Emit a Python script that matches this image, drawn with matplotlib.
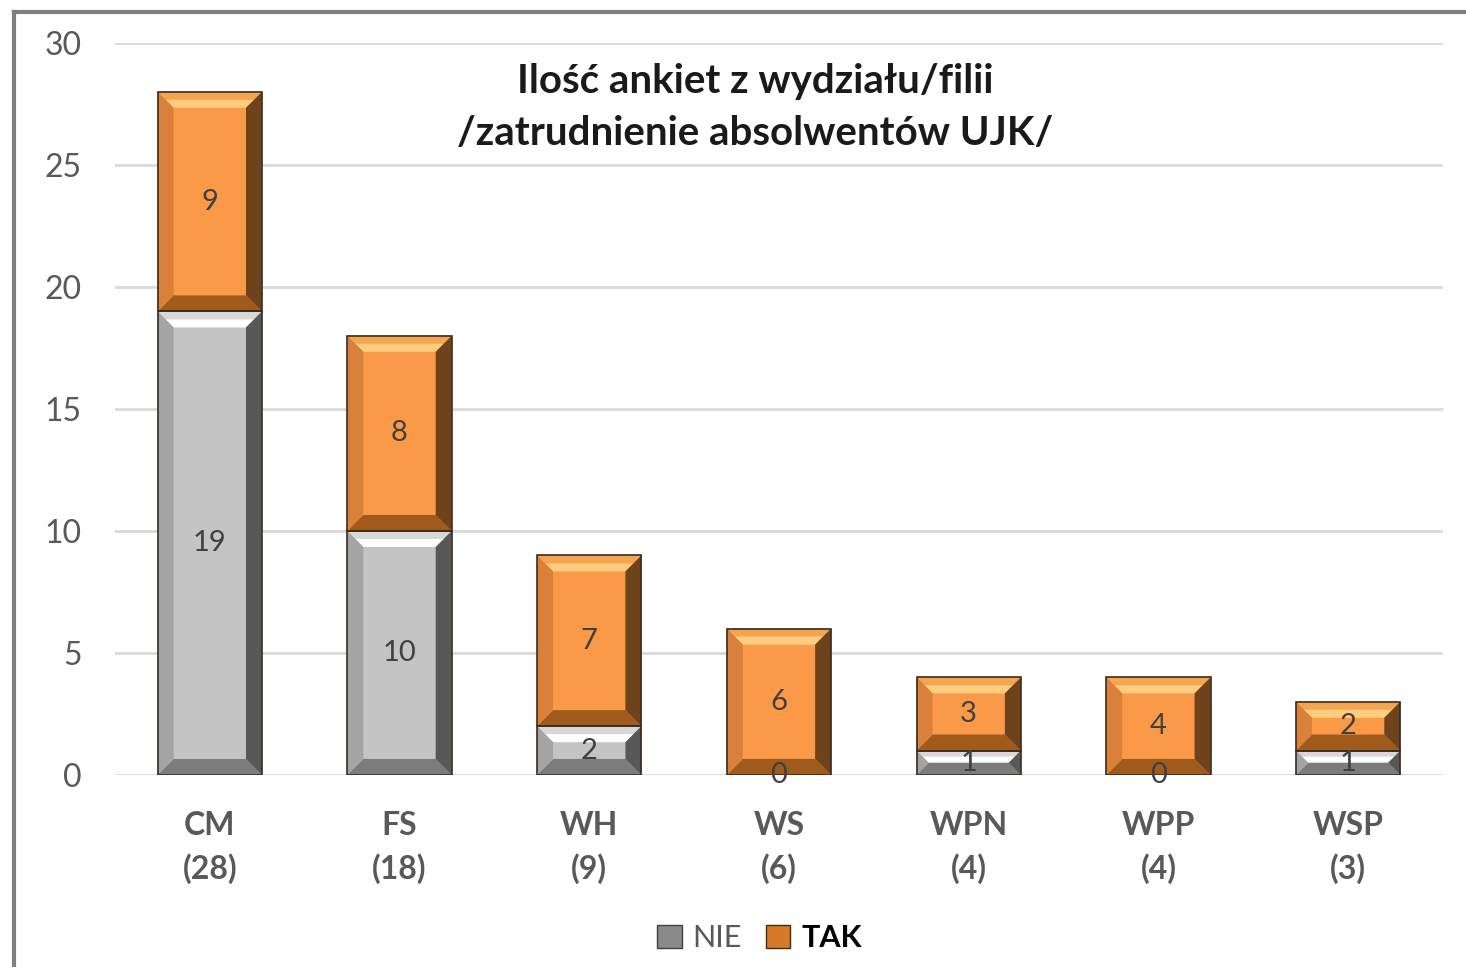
import matplotlib.pyplot as plt
from matplotlib.patches import Polygon, Patch
from matplotlib.lines import Line2D

plt.rcParams['font.family'] = ['Lato', 'DejaVu Sans']

categories = ["CM", "FS", "WH", "WS", "WPN", "WPP", "WSP"]
totals = [28, 18, 9, 6, 4, 4, 3]
nie = [19, 10, 2, 0, 1, 0, 1]
tak = [9, 8, 7, 6, 3, 4, 2]
title = "Ilość ankiet z wydziału/filii\n/zatrudnienie absolwentów UJK/"

fig = plt.figure(figsize=(14.66, 9.67), dpi=100)
ax = fig.add_axes([0.0784, 0.1986, 0.9059, 0.7569])

# frame round the chart (left and top only visible in the source)
fig.add_artist(Line2D([0.0095, 0.0095], [0.0, 0.9880], color='#808080', lw=3, transform=fig.transFigure))
fig.add_artist(Line2D([0.0095, 1.0], [0.9880, 0.9880], color='#808080', lw=3, transform=fig.transFigure))

x = list(range(len(categories)))
width = 0.55

ax.set_xlim(-0.5, len(categories) - 0.5)
ax.set_ylim(0, 30)

# pixel scale, for the bevel
ax_w = 0.9059 * 1466
ax_h = 0.7569 * 967
px_x = ax_w / len(categories)
px_y = ax_h / 30.0


def bevel(x0, x1, y0, y1, c_top, c_top2, c_bot, c_left, c_right):
    w_px = (x1 - x0) * px_x
    h_px = (y1 - y0) * px_y
    b = min(16, w_px / 2, h_px / 2)
    dx = b / px_x
    dy = b / px_y
    polys = [
        ([(x0, y1), (x1, y1), (x1 - dx, y1 - dy), (x0 + dx, y1 - dy)], c_top2),
        ([(x0 + dx * 0.5, y1 - dy * 0.5), (x1 - dx * 0.5, y1 - dy * 0.5),
          (x1 - dx, y1 - dy), (x0 + dx, y1 - dy)], c_top),
        ([(x0, y0), (x1, y0), (x1 - dx, y0 + dy), (x0 + dx, y0 + dy)], c_bot),
        ([(x0, y0), (x0, y1), (x0 + dx, y1 - dy), (x0 + dx, y0 + dy)], c_left),
        ([(x1, y0), (x1, y1), (x1 - dx, y1 - dy), (x1 - dx, y0 + dy)], c_right),
    ]
    for pts, c in polys:
        ax.add_patch(Polygon(pts, closed=True, facecolor=c, edgecolor='none', zorder=3))
    ax.add_patch(Polygon([(x0, y0), (x1, y0), (x1, y1), (x0, y1)], closed=True,
                         facecolor='none', edgecolor='#3a2c20', lw=1.2, zorder=4))


gray_face = '#c4c4c4'
orange_face = '#fa9a48'

bars_nie = ax.bar(x, nie, width, color=gray_face, edgecolor='none', zorder=2)
bars_tak = ax.bar(x, tak, width, bottom=nie, color=orange_face, edgecolor='none', zorder=2)

for i in x:
    x0 = i - width / 2
    x1 = i + width / 2
    if nie[i] > 0:
        bevel(x0, x1, 0, nie[i], '#ffffff', '#d8d8d8', '#7c7c7c', '#a4a4a4', '#585858')
    if tak[i] > 0:
        bevel(x0, x1, nie[i], nie[i] + tak[i], '#ffcc80', '#f5a550', '#a05a1c', '#d9803a', '#6e431c')

# value labels
for i in x:
    ax.text(i, nie[i] / 2, str(nie[i]), ha='center', va='center', fontsize=21, color='#404040', zorder=5)
    ax.text(i, nie[i] + tak[i] / 2, str(tak[i]), ha='center', va='center', fontsize=21, color='#404040', zorder=5)

ax.set_yticks(range(0, 31, 5))
ax.yaxis.grid(True, color='#d9d9d9', lw=2)
ax.set_axisbelow(True)
for s in ax.spines.values():
    s.set_visible(False)
ax.tick_params(axis='y', length=0, labelsize=23, labelcolor='#595959', pad=24)
ax.tick_params(axis='x', length=0, labelsize=23, labelcolor='#595959', pad=26)
ax.set_xticks(x)
ax.set_xticklabels([f"{c}\n({t})" for c, t in zip(categories, totals)], fontweight='bold', linespacing=1.5)

ax.text(0.482, 0.973, title, transform=ax.transAxes, ha='center', va='top',
        fontsize=29, fontweight='bold', color='#1a1a1a', linespacing=1.5)

handles = [Patch(facecolor='#8a8a8a', edgecolor='#404040'), Patch(facecolor='#d77a2a', edgecolor='#402a14')]
leg = fig.legend(handles, ["NIE", "TAK"], loc='center', bbox_to_anchor=(0.518, 0.030), ncol=2,
                 frameon=False, fontsize=22, handlelength=0.8, handleheight=0.8,
                 handletextpad=0.35, columnspacing=0.8)
texts = leg.get_texts()
texts[0].set_color('#595959')
texts[1].set_color('black')
texts[1].set_fontweight('bold')

fig.savefig("out.png", dpi=100)
